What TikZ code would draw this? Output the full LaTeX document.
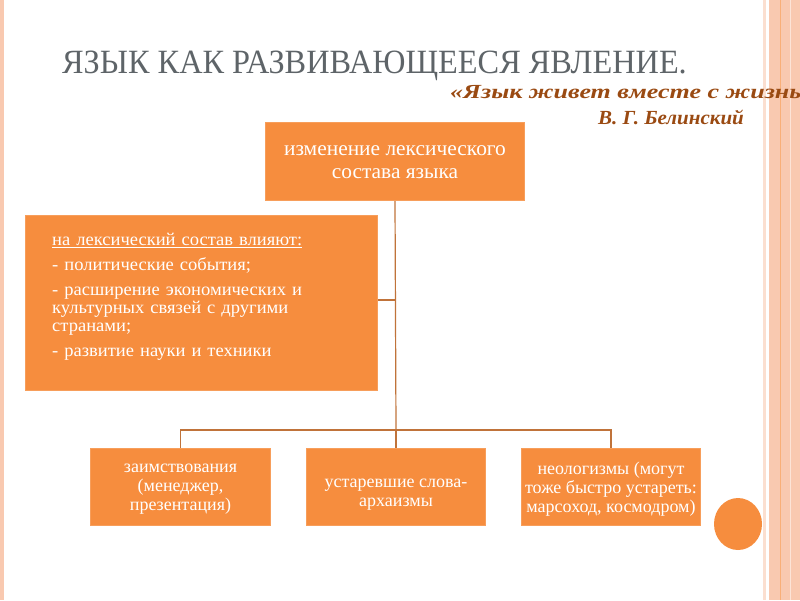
\documentclass[tikz,border=0pt]{standalone}
\usepackage{fontspec}
\setmainfont{Liberation Serif}
\definecolor{org}{HTML}{F68D3E}
\definecolor{lnk}{HTML}{C0733A}
\definecolor{pea}{HTML}{F9C9B0}
\definecolor{ttl}{HTML}{5E6468}
\definecolor{brn}{HTML}{9A4A12}
\begin{document}
\begin{tikzpicture}[x=1pt,y=-1pt,
  box/.style={fill=org,draw=org!85!white,line width=1pt,text=white,align=center,inner sep=0pt,anchor=north west},
  btxt/.style={text=white,font=\fontsize{18}{19}\selectfont\addfontfeatures{FakeStretch=1.0},align=center,inner sep=0pt},
  conn/.style={draw=lnk,line width=1.2pt}]
\useasboundingbox (0,0) rectangle (800,600);
\begin{scope}
\clip (0,0) rectangle (800,600);
% borders
\fill[pea] (0,0) rectangle (4,600);
\fill[pea!60!white] (763,0) rectangle (766,600);
\fill[pea] (769,0) rectangle (800,600);
\draw[org!70!white,line width=0.8pt] (780,0) -- (780,600);
\draw[pea!50!white,line width=1pt] (790,0) -- (790,600);
% title
\node[anchor=base west,text=ttl,inner sep=0pt,font=\fontsize{34}{36}\selectfont\addfontfeatures{FakeStretch=0.95}] (title) at (62,73) {ЯЗЫК КАК РАЗВИВАЮЩЕЕСЯ ЯВЛЕНИЕ.};
\node[anchor=base west,text=brn,inner sep=0pt,font=\fontsize{20}{22}\selectfont\bfseries\itshape\addfontfeatures{FakeStretch=1.3}] (quote) at (450,98) {«Язык живет вместе с жизнью народа»};
\end{scope}
\node[anchor=base west,text=brn,inner sep=0pt,font=\fontsize{20}{22}\selectfont\bfseries\itshape\addfontfeatures{FakeStretch=1.05}] (auth) at (598,124) {В. Г. Белинский};
% boxes
\node[box,minimum width=259pt,minimum height=78pt] (top) at (265,122) {};
\node[text=white,font=\fontsize{21}{23}\selectfont\addfontfeatures{FakeStretch=1.02},align=center,inner sep=0pt] at ([yshift=-1pt]top.center) {изменение лексического\\состава языка};
\node[box,minimum width=352pt,minimum height=175pt] (left) at (25,215) {};
\node[anchor=north west,text=white,font=\fontsize{18}{18}\selectfont\addfontfeatures{FakeStretch=1.03},align=left,inner sep=0pt,text width=320pt] (ltxt) at (52,233) {\underline{на лексический состав влияют:}\\[7pt]- политические события;\\[7pt]- расширение экономических и\\культурных связей с другими\\странами;\\[7pt]- развитие науки и техники};
\node[box,minimum width=180pt,minimum height=77pt] (b1) at (90,448) {};
\node[box,minimum width=179pt,minimum height=77pt] (b2) at (306,448) {};
\node[box,minimum width=179pt,minimum height=77pt] (b3) at (521,448) {};
\node[btxt] at ([yshift=-2pt]b1.center) {заимствования\\(менеджер,\\презентация)};
\node[btxt] at ([yshift=-8pt]b2.center) {устаревшие слова-\\архаизмы};
\node[btxt] at ([yshift=-2pt]b3.center) {неологизмы (могут\\тоже быстро устареть:\\марсоход, космодром)};
% connectors
\coordinate (j) at (396,430);
\coordinate (lj) at (396,300);
\draw[conn] (top.south) -- (j);
\draw[conn] (left.east |- lj) -- (lj);
\draw[conn] (b1.north) |- (j) -| (b3.north);
\draw[conn] (j) -- (b2.north);
% circle
\fill[org] (738,524) ellipse (24 and 26);
\end{tikzpicture}
\end{document}
